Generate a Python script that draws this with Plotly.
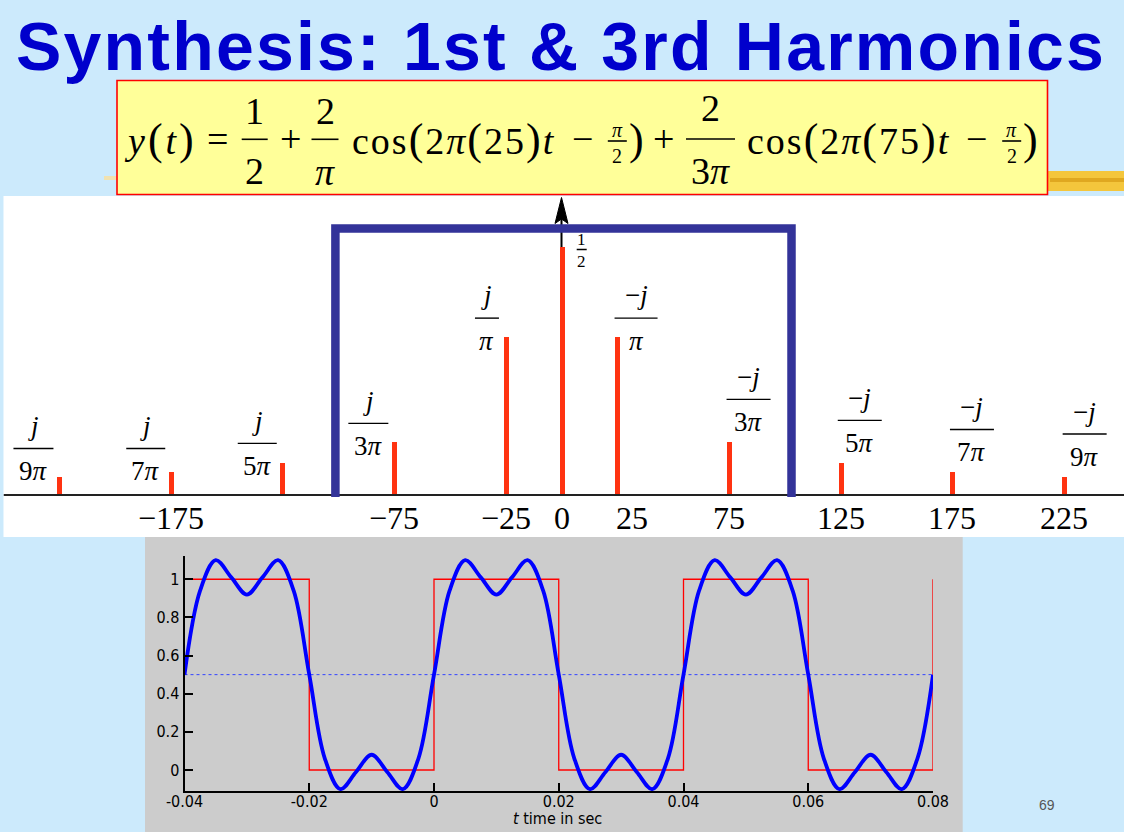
import plotly.graph_objects as go

W, H = 1124, 832

# ---------------- data ----------------
title_text = "Synthesis: 1st &amp; 3rd Harmonics"

spec_freqs = [-225, -175, -125, -75, -25, 0, 25, 75, 125, 175, 225]
spec_mags = [0.0354, 0.0455, 0.0637, 0.1061, 0.3183, 0.5, 0.3183, 0.1061, 0.0637, 0.0455, 0.0354]
spec_num = ["<i>j</i>", "<i>j</i>", "<i>j</i>", "<i>j</i>", "<i>j</i>", "1",
            "−<i>j</i>", "−<i>j</i>", "−<i>j</i>", "−<i>j</i>", "−<i>j</i>"]
spec_den = ["9<i>π</i>", "7<i>π</i>", "5<i>π</i>", "3<i>π</i>", "<i>π</i>", "2",
            "<i>π</i>", "3<i>π</i>", "5<i>π</i>", "7<i>π</i>", "9<i>π</i>"]

freq_tick_vals = [-175, -75, -25, 0, 25, 75, 125, 175, 225]
freq_tick_text = ["−175", "−75", "−25", "0", "25", "75", "125", "175", "225"]

t_grid = [round(-0.04 + 0.0025 * i, 5) for i in range(49)]
y_synth = [
    0.50, 0.94, 1.10, 1.01, 0.92, 1.01, 1.10, 0.94,
    0.50, 0.06, -0.10, -0.01, 0.08, -0.01, -0.10, 0.06,
    0.50, 0.94, 1.10, 1.01, 0.92, 1.01, 1.10, 0.94,
    0.50, 0.06, -0.10, -0.01, 0.08, -0.01, -0.10, 0.06,
    0.50, 0.94, 1.10, 1.01, 0.92, 1.01, 1.10, 0.94,
    0.50, 0.06, -0.10, -0.01, 0.08, -0.01, -0.10, 0.06,
    0.50,
]
sq_edges = [-0.04, -0.02, 0.0, 0.02, 0.04, 0.06, 0.08]
sq_levels = [1, 0, 1, 0, 1, 0, 1]
dc_level = 0.5

time_xticks = [-0.04, -0.02, 0, 0.02, 0.04, 0.06, 0.08]
time_xtick_text = ["-0.04", "-0.02", "0", "0.02", "0.04", "0.06", "0.08"]
time_yticks = [0, 0.2, 0.4, 0.6, 0.8, 1]
time_ytick_text = ["0", "0.2", "0.4", "0.6", "0.8", "1"]

# ---------------- styles ----------------
BG = "#cceafc"
SERIF = "Liberation Serif, Times New Roman, serif"
SANS = "Liberation Sans, Arial, sans-serif"
NARROW = "Liberation Sans Narrow, DejaVu Sans Condensed, Arial Narrow, sans-serif"
STEM_RED = "#ff3311"
NAVY = "#333399"

lab_dx = [-25.4, -24.8, -25.0, -25.6, -18.7, 20.2, 18.7, 19.5, 19.0, 19.5, 20.5]
lab_bar_dy = [-29, -24, -20, -19, -19, 2.5, -19, -43, -43, -43, -43.5]
lab_bar_w = [40, 39, 39, 40, 24, 10, 43, 44, 44, 44, 44]
lab_num_gap = [22, 22, 22, 22, 23, 10, 23, 22, 22, 22, 22]
lab_den_gap = [23, 23, 23, 23, 23, 12, 23, 23, 23, 23, 23]
lab_size = [27, 27, 27, 27, 27, 17, 27, 27, 27, 27, 27]

SX0, SPX = 561.5, 2.234
SY0, SPY = 495.0, 496.0
SP_L, SP_R, SP_T, SP_B = 3.5, 1124.0, 196.0, 537.0


def sx(px):
    return (px - SX0) / SPX


def sy(py):
    return (SY0 - py) / SPY


def px_x(px):
    return px / W


def px_y(py):
    return 1 - py / H


fig = go.Figure()

fig.add_trace(go.Bar(
    x=spec_freqs, y=spec_mags, width=5 / SPX,
    marker=dict(color=STEM_RED, line=dict(width=0)),
    xaxis="x", yaxis="y", hoverinfo="skip",
))

fig.add_trace(go.Scatter(
    x=[time_xticks[0], time_xticks[-1]], y=[dc_level, dc_level], mode="lines",
    line=dict(color="#3344ff", width=1, dash="dot"), xaxis="x2", yaxis="y2", hoverinfo="skip",
))
fig.add_trace(go.Scatter(
    x=sq_edges, y=sq_levels, mode="lines", line=dict(color="#ff0000", width=1.3, shape="hv"),
    xaxis="x2", yaxis="y2", hoverinfo="skip",
))
fig.add_trace(go.Scatter(
    x=t_grid, y=y_synth, mode="lines", line=dict(color="#0000ff", width=3.8, shape="spline", smoothing=1.0),
    xaxis="x2", yaxis="y2", hoverinfo="skip",
))

shapes = []
annotations = []

shapes.append(dict(type="rect", xref="paper", yref="paper", layer="below",
                   x0=px_x(145), x1=px_x(962.7), y0=0, y1=px_y(537),
                   fillcolor="#cccccc", line=dict(width=0)))
shapes.append(dict(type="rect", xref="paper", yref="paper", layer="below",
                   x0=px_x(1040), x1=1, y0=px_y(191), y1=px_y(171),
                   fillcolor="#f4c63c", line=dict(width=0)))
shapes.append(dict(type="rect", xref="paper", yref="paper", layer="below",
                   x0=px_x(1050), x1=1, y0=px_y(182), y1=px_y(178),
                   fillcolor="#e0a820", line=dict(width=0)))
shapes.append(dict(type="rect", xref="paper", yref="paper", layer="below",
                   x0=px_x(104), x1=px_x(118), y0=px_y(180), y1=px_y(176),
                   fillcolor="#f1e2b0", line=dict(width=0)))
shapes.append(dict(type="rect", xref="paper", yref="paper",
                   x0=px_x(117), x1=px_x(1047.5), y0=px_y(194.5), y1=px_y(80.5),
                   fillcolor="#ffff99", line=dict(color="#ff0000", width=1.6)))

shapes.append(dict(type="line", xref="x", yref="y", x0=sx(SP_L), x1=sx(SP_R), y0=0, y1=0,
                   line=dict(color="#222222", width=2)))

shapes.append(dict(type="line", xref="x", yref="y", x0=0, x1=0, y0=spec_mags[5], y1=sy(215),
                   line=dict(color="black", width=2)))
shapes.append(dict(type="path", xref="x", yref="y",
                   path=f"M {sx(SX0 - 6.5)},{sy(223.5)} L 0,{sy(197.5)} L {sx(SX0 + 6.5)},{sy(223.5)} "
                        f"L 0,{sy(219)} Z",
                   fillcolor="black", line=dict(color="black", width=1)))

bx0, bx1, bty = sx(335.4), sx(791.5), sy(228.5)
shapes.append(dict(type="path", xref="x", yref="y",
                   path=f"M {bx0},{sy(497)} L {bx0},{bty} L {bx1},{bty} L {bx1},{sy(497)}",
                   line=dict(color=NAVY, width=8.5)))

for i, f in enumerate(spec_freqs):
    top_py = SY0 - spec_mags[i] * SPY
    bar_py = top_py + lab_bar_dy[i]
    cx = SX0 + f * SPX + lab_dx[i]
    fs = lab_size[i]
    annotations.append(dict(xref="x", yref="y", x=sx(cx), y=sy(bar_py - lab_num_gap[i]),
                            text=spec_num[i], showarrow=False, xanchor="center", yanchor="middle",
                            font=dict(family=SERIF, size=fs, color="black")))
    annotations.append(dict(xref="x", yref="y", x=sx(cx), y=sy(bar_py + lab_den_gap[i]),
                            text=spec_den[i], showarrow=False, xanchor="center", yanchor="middle",
                            font=dict(family=SERIF, size=fs, color="black")))
    w = lab_bar_w[i]
    shapes.append(dict(type="line", xref="x", yref="y", x0=sx(cx - w / 2), x1=sx(cx + w / 2),
                       y0=sy(bar_py), y1=sy(bar_py), line=dict(color="black", width=1.4)))

tick_shift = {25: 15}
for v, t in zip(freq_tick_vals, freq_tick_text):
    annotations.append(dict(xref="x", yref="y", x=v, y=sy(518), text=t, showarrow=False,
                            xanchor="center", yanchor="middle", xshift=tick_shift.get(v, 0),
                            font=dict(family=SERIF, size=32, color="black")))

annotations.append(dict(xref="paper", yref="paper", x=px_x(561), y=px_y(46),
                        text=f"<span style='letter-spacing:2.2px'><b>{title_text}</b></span>",
                        showarrow=False, xanchor="center", yanchor="middle",
                        font=dict(family=SANS, size=68, color="#0000cc")))

FS = 38


def fp(text, xpx, ypx, size=FS, anchor="center", ls=0):
    if ls:
        text = f"<span style='letter-spacing:{ls}px'>{text}</span>"
    annotations.append(dict(xref="paper", yref="paper", x=px_x(xpx), y=px_y(ypx), text=text,
                            showarrow=False, xanchor=anchor, yanchor="middle",
                            font=dict(family=SERIF, size=size, color="black")))


def frac(num, den, cx, bar_py, w, num_py, den_py, size=FS):
    fp(num, cx, num_py, size)
    fp(den, cx, den_py, size)
    shapes.append(dict(type="line", xref="paper", yref="paper",
                       x0=px_x(cx - w / 2), x1=px_x(cx + w / 2), y0=px_y(bar_py), y1=px_y(bar_py),
                       line=dict(color="black", width=1.6)))


BIGP = "<span style='font-size:44px'>{}</span>"
ymid = 139
fp("<i>y</i>" + BIGP.format("(") + "<i>t</i>" + BIGP.format(")"), 160, ymid, ls=3)
fp("=", 217.5, ymid)
frac("1", "2", 254.7, 139.3, 26, 111, 171)
fp("+", 290, ymid)
frac("2", "<i>π</i>", 325, 139.3, 27, 111, 172)
fp("cos" + BIGP.format("(") + "2<i>π</i>" + BIGP.format("(") + "25" + BIGP.format(")") + "<i>t</i>",
   350, ymid, anchor="left", ls=2)
fp("−", 582.5, ymid)
frac("<i>π</i>", "2", 617.3, 141, 19, 130, 156, size=20)
fp(BIGP.format(")"), 636.7, ymid)
fp("+", 663.3, ymid)
frac("2", "3<i>π</i>", 710.5, 139, 49, 108, 171)
fp("cos" + BIGP.format("(") + "2<i>π</i>" + BIGP.format("(") + "75" + BIGP.format(")") + "<i>t</i>",
   745, ymid, anchor="left", ls=2)
fp("−", 976.7, ymid)
frac("<i>π</i>", "2", 1011.7, 141, 19, 130, 156, size=20)
fp(BIGP.format(")"), 1030, ymid)

annotations.append(dict(xref="paper", yref="paper", x=px_x(557), y=px_y(818),
                        text="<i>t</i> time in sec", showarrow=False, xanchor="center", yanchor="middle",
                        font=dict(family=NARROW, size=16, color="black")))
annotations.append(dict(xref="paper", yref="paper", x=px_x(1047), y=px_y(805),
                        text="69", showarrow=False, xanchor="center", yanchor="middle",
                        font=dict(family=SANS, size=14, color="#555555")))

hidden = dict(showgrid=False, zeroline=False, showticklabels=False, ticks="", showline=False,
              fixedrange=True, automargin=False)

fig.update_layout(
    width=W, height=H, margin=dict(l=0, r=0, t=0, b=0, pad=0, autoexpand=False), autosize=False,
    paper_bgcolor=BG, plot_bgcolor="white", showlegend=False, bargap=0,
    xaxis=dict(domain=[px_x(SP_L), px_x(SP_R)], range=[sx(SP_L), sx(SP_R)], anchor="y", **hidden),
    yaxis=dict(domain=[px_y(SP_B), px_y(SP_T)], range=[sy(SP_B), sy(SP_T)], anchor="x", **hidden),
    xaxis2=dict(domain=[px_x(184.5), px_x(933)], range=[-0.04, 0.08], anchor="y2", automargin=False,
                showgrid=False, zeroline=False, showline=True, linecolor="black", linewidth=2,
                ticks="inside", ticklen=8, tickwidth=1.5, tickcolor="black",
                tickvals=time_xticks, ticktext=time_xtick_text, ticklabelstandoff=-5,
                tickfont=dict(family=NARROW, size=16, color="black")),
    yaxis2=dict(domain=[px_y(791), px_y(556)], range=[-0.11, 1.122], anchor="x2", automargin=False,
                showgrid=False, zeroline=False, showline=True, linecolor="black", linewidth=2,
                ticks="inside", ticklen=8, tickwidth=1.5, tickcolor="black",
                tickvals=time_yticks, ticktext=time_ytick_text,
                tickfont=dict(family=NARROW, size=16, color="black")),
    shapes=shapes, annotations=annotations,
)

fig.write_html(
    "out.html",
    config={"displayModeBar": False, "responsive": False},
    post_script="document.body.style.margin='0px';document.body.style.background='" + BG + "';",
)
